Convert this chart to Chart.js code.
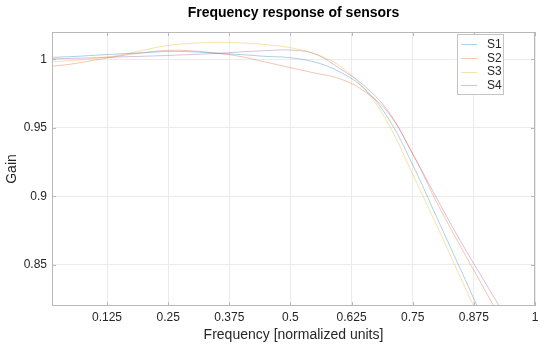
<!DOCTYPE html>
<html>
<head>
<meta charset="utf-8">
<script src="https://cdn.jsdelivr.net/npm/chart.js@4"></script>
<style>
  html, body { margin: 0; padding: 0; background: #fff; }
  #wrap { width: 550px; height: 350px; }
</style>
</head>
<body>
<div id="wrap"><canvas id="freq-chart" width="550" height="350"></canvas></div>
<script>
const freq = [0.0125, 0.05, 0.1, 0.15, 0.2, 0.25, 0.3, 0.35, 0.4, 0.45, 0.5, 0.55, 0.6, 0.65, 0.7, 0.75, 0.8, 0.85, 0.9, 0.95, 1.0];
const s1 = [1.0015, 1.002, 1.003, 1.004, 1.0048, 1.0058, 1.0055, 1.0045, 1.0035, 1.0022, 1.0012, 0.998, 0.991, 0.979, 0.957, 0.923, 0.884, 0.845, 0.806, 0.77, 0.735];
const s2 = [0.995, 0.9965, 0.9995, 1.0025, 1.005, 1.0066, 1.0062, 1.0045, 1.002, 0.998, 0.994, 0.990, 0.986, 0.977, 0.961, 0.931, 0.895, 0.862, 0.83, 0.797, 0.765];
const s3 = [0.9985, 0.999, 1.0008, 1.003, 1.0068, 1.0102, 1.0118, 1.0123, 1.012, 1.0108, 1.0085, 1.004, 0.9955, 0.979, 0.953, 0.916, 0.878, 0.839, 0.80, 0.76, 0.72];
const s4 = [1.0004, 1.0007, 1.0012, 1.0018, 1.0023, 1.0029, 1.0036, 1.0044, 1.0055, 1.0064, 1.0068, 1.004, 0.9935, 0.981, 0.962, 0.931, 0.898, 0.866, 0.836, 0.806, 0.775];
const seriesNames = ['S1', 'S2', 'S3', 'S4'];
const xTicks = [0.125, 0.25, 0.375, 0.5, 0.625, 0.75, 0.875, 1];
const xTickLabels = ['0.125', '0.25', '0.375', '0.5', '0.625', '0.75', '0.875', '1'];
const yTicks = [0.85, 0.9, 0.95, 1];
const yTickLabels = ['0.85', '0.9', '0.95', '1'];

(function () {
  const FONT = "'Liberation Sans', Arial, Helvetica, sans-serif";
  const TEXT = '#262626';
  const colors = ['rgba(0,114,189,0.33)', 'rgba(217,83,25,0.33)', 'rgba(237,177,32,0.38)', 'rgba(126,47,142,0.3)'];

  const toPoints = (ys) => freq.map((f, i) => ({ x: f, y: ys[i] }));

  // box, inward ticks, title and legend in the matlab look
  const matlabAxes = {
    id: 'matlabAxes',
    afterDraw(chart) {
      const { ctx, chartArea: a, scales } = chart;
      ctx.save();
      ctx.strokeStyle = '#b8b8b8';
      ctx.lineWidth = 1;
      ctx.strokeRect(a.left + 0.5, a.top + 0.5, a.right - a.left - 1, a.bottom - a.top - 1);

      ctx.beginPath();
      xTicks.forEach((v) => {
        const px = Math.round(scales.x.getPixelForValue(v)) + 0.5;
        ctx.moveTo(px, a.bottom); ctx.lineTo(px, a.bottom - 4);
        ctx.moveTo(px, a.top); ctx.lineTo(px, a.top + 4);
      });
      yTicks.forEach((v) => {
        const py = Math.round(scales.y.getPixelForValue(v)) + 0.5;
        ctx.moveTo(a.left, py); ctx.lineTo(a.left + 4, py);
        ctx.moveTo(a.right, py); ctx.lineTo(a.right - 4, py);
      });
      ctx.stroke();

      ctx.fillStyle = '#000';
      ctx.font = 'bold 14px ' + FONT;
      ctx.textAlign = 'center';
      ctx.textBaseline = 'middle';
      ctx.fillText('Frequency response of sensors', (a.left + a.right) / 2, 13);

      // legend
      const bx = 457, by = 34, bw = 46, bh = 60;
      ctx.fillStyle = '#fff';
      ctx.fillRect(bx, by, bw, bh);
      ctx.strokeStyle = '#c4c4c4';
      ctx.strokeRect(bx + 0.5, by + 0.5, bw, bh);
      ctx.font = '12px ' + FONT;
      ctx.textAlign = 'left';
      chart.data.datasets.forEach((ds, i) => {
        const cy = by + 10 + i * 13.8;
        ctx.strokeStyle = ds.borderColor;
        ctx.beginPath();
        ctx.moveTo(bx + 4, Math.round(cy) + 0.5);
        ctx.lineTo(bx + 20, Math.round(cy) + 0.5);
        ctx.stroke();
        ctx.fillStyle = TEXT;
        ctx.fillText(ds.label, bx + 30, cy + 0.5);
      });
      ctx.restore();
    }
  };

  new Chart(document.getElementById('freq-chart'), {
    type: 'line',
    data: {
      datasets: [s1, s2, s3, s4].map((ys, i) => ({
        label: seriesNames[i],
        data: toPoints(ys),
        borderColor: colors[i],
        borderWidth: 1,
        pointRadius: 0,
        fill: false,
        tension: 0.4
      }))
    },
    options: {
      responsive: false,
      animation: false,
      devicePixelRatio: 1,
      layout: { padding: { top: 32, right: 15, left: 0, bottom: 0 } },
      plugins: { legend: { display: false }, title: { display: false }, tooltip: { enabled: false } },
      scales: {
        x: {
          type: 'linear',
          min: 0.0125,
          max: 1,
          afterBuildTicks: (scale) => { scale.ticks = xTicks.map((v) => ({ value: v })); },
          afterFit: (scale) => { scale.height = 44; },
          grid: { color: '#ebebeb', drawTicks: false },
          border: { display: false },
          ticks: {
            padding: 4,
            color: TEXT,
            font: { family: FONT, size: 12 },
            maxRotation: 0,
            autoSkip: false,
            callback: (v) => xTickLabels[xTicks.indexOf(v)] ?? ''
          },
          title: { display: true, text: 'Frequency [normalized units]', color: TEXT, font: { family: FONT, size: 14 }, padding: 6 }
        },
        y: {
          min: 0.82,
          max: 1.02,
          afterBuildTicks: (scale) => { scale.ticks = yTicks.map((v) => ({ value: v })); },
          afterFit: (scale) => { scale.width = 52; },
          grid: { color: '#ebebeb', drawTicks: false },
          border: { display: false },
          ticks: {
            padding: 5,
            color: TEXT,
            font: { family: FONT, size: 12 },
            autoSkip: false,
            callback: (v) => yTickLabels[yTicks.indexOf(v)] ?? ''
          },
          title: { display: true, text: 'Gain', color: TEXT, font: { family: FONT, size: 14 }, padding: 4 }
        }
      }
    },
    plugins: [matlabAxes]
  });
})();
</script>
</body>
</html>
